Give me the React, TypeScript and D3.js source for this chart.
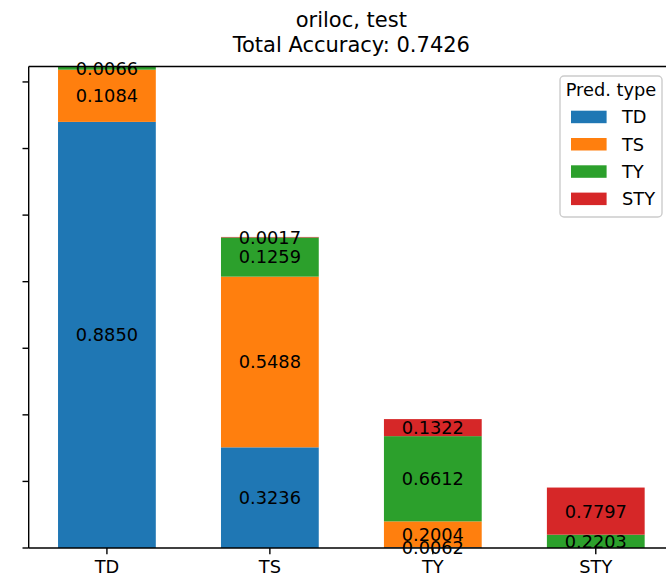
import React from "react";
import * as d3 from "d3";

// True classes along the x axis and predicted types stacked in each bar
const categories = ["TD", "TS", "TY", "STY"];
const predTypes = ["TD", "TS", "TY", "STY"];

// Counts of each predicted type, indexed by true class
const predTD = [1600, 378, 3, 0];
const predTS = [196, 641, 97, 0];
const predTY = [12, 147, 320, 50];
const predSTY = [0, 2, 64, 177];

const yTicks = [0, 250, 500, 750, 1000, 1250, 1500, 1750];
const colors = ["#1f77b4", "#ff7f0e", "#2ca02c", "#d62728"];

const titleLine1 = "oriloc, test";
const titleLine2 = "Total Accuracy: 0.7426";
const legendTitle = "Pred. type";

const W = 666;
const H = 578;
const FONT = "DejaVu Sans, sans-serif";

export default function App() {
  const series = [predTD, predTS, predTY, predSTY];
  const rows = categories.map((c, i) => {
    const r: Record<string, any> = { cat: c };
    predTypes.forEach((p, j) => (r[p] = series[j][i]));
    return r;
  });
  const totals = categories.map((_, i) => d3.sum(series, (s) => s[i]));
  const stack = d3.stack<any>().keys(predTypes)(rows);

  const left = 28.7;
  const right = 674;
  const top = 66.5;
  const bottom = 548;

  const x = d3
    .scaleBand<string>()
    .domain(categories)
    .range([left, right])
    .paddingInner(0.4)
    .paddingOuter(0.18);
  const y = d3.scaleLinear().domain([0, d3.max(totals)!]).range([bottom, top]);

  const fmt = d3.format(".4f");
  const cx = (left + right) / 2;

  const lgX = 560;
  const lgY = 76;
  const lgW = 102;
  const lgH = 141;

  return (
    <svg
      width={W}
      height={H}
      style={{ position: "absolute", left: 0, top: 0, background: "#fff" }}
      fontFamily={FONT}
    >
      <rect x={0} y={0} width={W} height={H} fill="#fff" />
      {/* stacked bars */}
      {stack.map((layer, j) => (
        <g key={layer.key}>
          {layer.map((d, i) => {
            const h = y(d[0]) - y(d[1]);
            if (h <= 0) return null;
            return (
              <rect
                key={i}
                x={x(categories[i])}
                y={y(d[1])}
                width={x.bandwidth()}
                height={h}
                fill={colors[j]}
              />
            );
          })}
        </g>
      ))}
      {/* axis spines */}
      <line x1={left} x2={left} y1={top} y2={bottom} stroke="#000" strokeWidth={1.4} />
      <line x1={left} x2={W} y1={bottom} y2={bottom} stroke="#000" strokeWidth={1.4} />
      <line x1={left} x2={W} y1={top} y2={top} stroke="#000" strokeWidth={1.4} />
      {/* y ticks */}
      {yTicks.map((t) => (
        <line key={t} x1={left - 6.2} x2={left} y1={y(t)} y2={y(t)} stroke="#000" strokeWidth={1.4} />
      ))}
      {/* x ticks and labels */}
      {categories.map((c) => {
        const px = x(c)! + x.bandwidth() / 2;
        return (
          <g key={c}>
            <line x1={px} x2={px} y1={bottom} y2={bottom + 6.2} stroke="#000" strokeWidth={1.4} />
            <text x={px} y={bottom + 25} textAnchor="middle" fontSize={17.8} fill="#000">
              {c}
            </text>
          </g>
        );
      })}
      {/* segment labels: share of each predicted type within the bar */}
      {stack.map((layer, j) =>
        layer.map((d, i) => {
          const v = series[j][i];
          if (v === 0) return null;
          const px = x(categories[i])! + x.bandwidth() / 2;
          const py = (y(d[0]) + y(d[1])) / 2;
          return (
            <text
              key={`${j}-${i}`}
              x={px}
              y={py}
              dy="0.36em"
              textAnchor="middle"
              fontSize={17.8}
              fill="#000"
            >
              {fmt(v / totals[i])}
            </text>
          );
        })
      )}
      {/* title */}
      <text x={cx} y={27} textAnchor="middle" fontSize={21} fill="#000">
        {titleLine1}
      </text>
      <text x={cx} y={52} textAnchor="middle" fontSize={21} fill="#000">
        {titleLine2}
      </text>
      {/* legend */}
      <g>
        <rect
          x={lgX}
          y={lgY}
          width={lgW}
          height={lgH}
          rx={4}
          fill="#fff"
          fillOpacity={0.8}
          stroke="#ccc"
          strokeWidth={1.4}
        />
        <text x={lgX + lgW / 2} y={lgY + 20} textAnchor="middle" fontSize={17.8} fill="#000">
          {legendTitle}
        </text>
        {predTypes.map((p, j) => {
          const ey = lgY + 41 + j * 27.3;
          return (
            <g key={p}>
              <rect x={571} y={ey - 6.3} width={35.6} height={12.5} fill={colors[j]} />
              <text x={622} y={ey} dy="0.36em" fontSize={17.8} fill="#000">
                {p}
              </text>
            </g>
          );
        })}
      </g>
    </svg>
  );
}
